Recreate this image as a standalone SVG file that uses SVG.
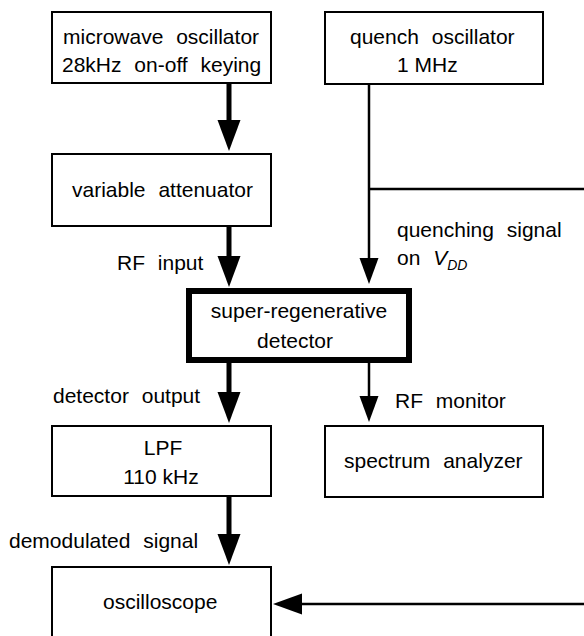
<svg xmlns="http://www.w3.org/2000/svg" width="584" height="636" viewBox="0 0 584 636">
<style>
text{font-family:"Liberation Sans",Arial,sans-serif;font-size:21px;fill:#000;word-spacing:7px}
.ns{word-spacing:0}
.box{fill:#fff;stroke:#000;stroke-width:2}
.thick{stroke:#000;stroke-width:5;fill:none}
.thin{stroke:#000;stroke-width:2.5;fill:none}
.head{fill:#000}
</style>
<rect width="584" height="636" fill="#fff"/>
<g id="connectors">
  <line class="thick" x1="229" y1="83" x2="229" y2="122"/>
  <polygon class="head" points="217.5,120 240.5,120 229,151"/>
  <line class="thick" x1="229" y1="226" x2="229" y2="258"/>
  <polygon class="head" points="217.5,256 240.5,256 229,287"/>
  <line class="thin" x1="369" y1="84" x2="369" y2="260"/>
  <line class="thin" x1="369" y1="189" x2="584" y2="189"/>
  <polygon class="head" points="359.5,258 378.5,258 369,284"/>
  <line class="thick" x1="229" y1="363" x2="229" y2="394"/>
  <polygon class="head" points="217.5,392 240.5,392 229,423"/>
  <line class="thin" x1="369" y1="363" x2="369" y2="398"/>
  <polygon class="head" points="359.5,396 378.5,396 369,422"/>
  <line class="thick" x1="229" y1="496" x2="229" y2="536"/>
  <polygon class="head" points="217.5,534 240.5,534 229,565"/>
  <line class="thin" x1="584" y1="604" x2="300" y2="604"/>
  <polygon class="head" points="302,593.5 302,614.5 273,604"/>
</g>
<g id="microwave-oscillator">
  <rect class="box" x="52" y="12" width="219" height="71"/>
  <text x="63" y="44">microwave oscillator</text>
  <text x="62" y="72">28kHz on-off keying</text>
</g>
<g id="quench-oscillator">
  <rect class="box" x="325" y="12" width="218" height="72"/>
  <text x="350" y="44">quench oscillator</text>
  <text x="397" y="72" class="ns">1 MHz</text>
</g>
<g id="variable-attenuator">
  <rect class="box" x="52" y="154" width="219" height="72"/>
  <text x="72" y="197">variable attenuator</text>
</g>
<g id="labels">
  <text x="117" y="270">RF input</text>
  <text x="397" y="237">quenching signal</text>
  <text x="397" y="265">on <tspan font-style="italic">V</tspan><tspan font-style="italic" font-size="14" dy="5">DD</tspan></text>
  <text x="53" y="403">detector output</text>
  <text x="395" y="408">RF monitor</text>
  <text x="9" y="548">demodulated signal</text>
</g>
<g id="super-regenerative-detector">
  <rect x="189" y="291" width="220" height="69" fill="#fff" stroke="#000" stroke-width="6"/>
  <text x="299" y="318" text-anchor="middle">super-regenerative</text>
  <text x="295" y="348" text-anchor="middle">detector</text>
</g>
<g id="lpf">
  <rect class="box" x="52" y="426" width="219" height="70"/>
  <text x="163" y="455" text-anchor="middle">LPF</text>
  <text x="161" y="484" text-anchor="middle" class="ns">110 kHz</text>
</g>
<g id="spectrum-analyzer">
  <rect class="box" x="325" y="426" width="218" height="71"/>
  <text x="344" y="468">spectrum analyzer</text>
</g>
<g id="oscilloscope">
  <rect class="box" x="52" y="567" width="219" height="80"/>
  <text x="103" y="609">oscilloscope</text>
</g>
</svg>
